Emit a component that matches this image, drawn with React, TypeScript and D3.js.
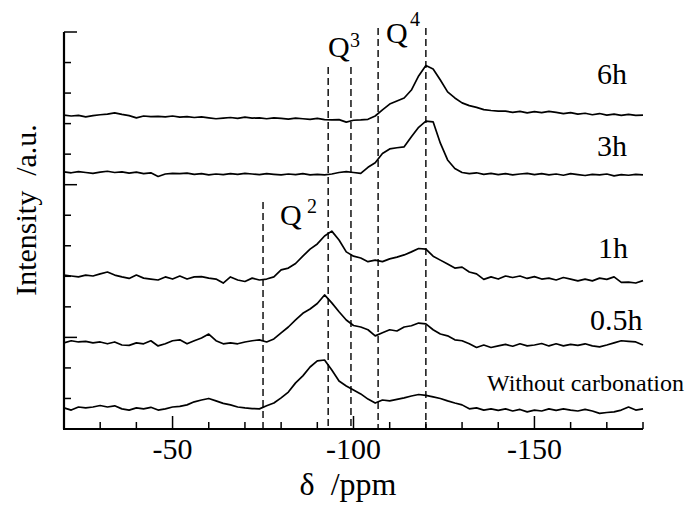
import React from "react";
import * as d3 from "d3";

// chemical shift grid (ppm), sampled every 2 ppm from -20 to -180
const ppmGrid: number[] = d3.range(81).map((i) => -20 - 2 * i);

const seriesNames = ["Without carbonation", "0.5h", "1h", "3h", "6h"];
// vertical offsets of each spectrum (a.u.)
const baselineOffsets = [-23.1, -1.8, 20.1, 53.8, 72.5];

// relative intensities (a.u.)
const relWithout = [
  0.0, -0.7, 0.3, 0.0, 0.3, 0.8, 0.3, 0.7, -0.3, -0.7,
  0.0, -0.3, 0.2, -0.7, -0.3, 0.3, 0.5, 1.0, 2.0, 2.6,
  3.1, 2.3, 1.5, 1.0, 0.3, 0.0, -0.2, -0.3, 0.7, 1.6,
  3.3, 5.2, 8.2, 10.5, 13.4, 15.4, 15.7, 12.4, 8.8, 7.2,
  5.9, 4.6, 2.9, 1.6, 2.6, 2.3, 2.8, 3.3, 3.9, 4.4,
  4.1, 3.6, 3.1, 2.3, 1.6, 1.0, -0.3, 0.0, -0.7, -0.3,
  -0.8, -0.3, -1.0, -0.5, -1.3, -0.7, -1.0, -0.3, -0.8, -0.3,
  -0.7, -1.0, -0.5, -1.0, -1.8, -1.5, -1.3, -0.7, 0.3, -0.7, -0.3,
];
const rel05h = [
  0.0, 0.7, 0.3, 0.5, 0.0, 0.3, -0.3, 0.3, -0.7, -0.8,
  0.0, -0.3, 0.7, -1.0, -0.3, 0.7, 1.0, -0.3, 0.7, 1.6,
  2.9, 0.7, -0.3, 0.0, -0.3, 0.3, 0.7, 1.0, 0.3, 1.3,
  3.3, 5.2, 7.5, 9.7, 11.1, 12.9, 15.7, 13.1, 10.2, 7.5,
  5.7, 5.2, 4.3, 2.3, 3.3, 4.3, 3.9, 5.2, 5.6, 6.5,
  6.2, 4.3, 2.9, 2.3, 1.0, 0.7, -0.3, -1.5, -0.7, -1.5,
  -1.0, -0.5, -1.1, -0.3, -1.0, -0.7, -0.2, -1.0, -0.3, -1.0,
  -0.5, -0.8, -0.3, -1.0, -1.3, -0.7, 0.0, 0.7, 0.5, 0.3, -0.7,
];
const rel1h = [
  0.3, 0.0, -0.3, 0.3, 0.0, 0.7, 1.3, 0.3, -0.3, -0.8,
  0.3, -0.7, -1.0, -1.3, -0.3, -1.0, 0.0, -1.0, -0.3, -0.2,
  -0.7, -1.0, -2.3, -0.3, -1.3, -1.8, -0.7, -1.3, -1.0, -0.3,
  2.0, 2.6, 4.1, 6.5, 8.8, 10.5, 13.1, 14.7, 11.8, 7.9,
  6.5, 5.9, 4.7, 5.2, 4.7, 5.6, 6.2, 6.9, 7.9, 9.0,
  8.8, 6.5, 5.2, 3.9, 2.6, 2.9, 1.3, 0.7, -1.1, -0.3,
  -1.0, 0.0, -0.5, 0.0, -0.8, -0.2, -1.0, -0.7, -1.3, -0.5,
  -1.0, -1.6, -1.0, -1.6, -0.7, -1.1, -0.3, -2.1, -2.0, -2.3, -1.5,
];
const rel3h = [
  0.4, 0.1, 0.5, 0.2, -0.1, 0.3, 0.6, 0.2, 0.4, 0.0,
  0.3, -0.2, 0.1, -1.1, -0.3, -0.1, -0.2, 0.0, -0.4, -0.2,
  -0.6, -0.3, -0.5, -0.2, -0.4, -0.1, -0.3, -0.5, -0.2, -0.4,
  -0.6, -0.3, -0.5, -0.2, -0.6, -0.4, -0.6, -0.3, 0.2, 0.5,
  0.2, -0.1, 1.9, 3.4, 6.4, 7.9, 8.3, 8.6, 11.9, 15.0,
  17.0, 16.8, 9.8, 4.3, 1.5, 0.2, -0.2, 0.1, -0.4, -0.1,
  -0.5, -0.2, -0.6, -0.3, -0.1, -0.5, -0.2, -0.6, -0.3, -0.7,
  -0.2, -0.5, -0.8, -0.4, -0.6, -0.3, -0.9, -0.5, -0.7, -0.4, -0.6,
];
const rel6h = [
  0.3, 0.0, 0.2, -0.3, 0.1, 0.4, 0.6, 1.0, 0.5, 0.1,
  -0.6, 0.0, -0.2, -0.1, -0.3, 0.0, -0.4, -0.2, -0.5, -0.3,
  -0.6, -0.9, -0.7, -0.5, -0.8, -0.4, -0.7, -0.6, -0.9, -0.6,
  -0.8, -1.0, -0.7, -0.9, -1.1, -0.8, -1.2, -1.3, -1.2, -2.0,
  -1.4, -1.3, -1.1, 0.0, 2.0, 3.9, 4.9, 5.9, 8.5, 13.1,
  16.5, 15.4, 11.8, 7.9, 5.9, 4.3, 3.4, 2.8, 2.1, 1.8,
  1.6, 1.6, 1.2, 1.5, 1.0, 1.4, 1.1, 1.5, 1.2, 0.8,
  1.1, 0.6, 0.9, 0.4, 0.8, 0.3, 0.6, 0.2, 0.5, 0.2, 0.3,
];
const relSeries = [relWithout, rel05h, rel1h, rel3h, rel6h];

const xMajorTicks = [-50, -100, -150];
const xTicks = d3.range(-20, -181, -10);
const yTicks = d3.range(-30, 101, 10);
const yMajorTicks = [0, 50, 100];

// dashed reference lines: position (ppm) and top (a.u.)
const refLinePpm = [-75, -93, -99.3, -106.8, -120];
const refLineTop = [44.3, 88.5, 88.5, 101.3, 101.3];

const qLabels = ["2", "3", "4"];

const FONT = "'Liberation Serif', 'DejaVu Serif', 'Noto Serif', 'Times New Roman', Times, serif";

export default function App() {
  const width = 688;
  const height = 506;
  const x = d3.scaleLinear().domain([-20, -180]).range([64, 643]);
  const y = d3.scaleLinear().domain([-30, 100]).range([429, 32]);

  const line = d3
    .line<[number, number]>()
    .x((d) => x(d[0]))
    .y((d) => y(d[1]))
    .curve(d3.curveLinear);

  const paths = relSeries.map((rel, si) =>
    line(ppmGrid.map((p, i) => [p, baselineOffsets[si] + rel[i]] as [number, number]))
  );

  const labelPos = [
    { x: 487, y: 391, size: 24 },
    { x: 590, y: 330, size: 30 },
    { x: 598, y: 258, size: 30 },
    { x: 597, y: 156, size: 30 },
    { x: 597, y: 84, size: 30 },
  ];
  const qPos = [
    { x: 280, y: 225, sx: 307, sy: 213 },
    { x: 328, y: 57, sx: 350, sy: 47 },
    { x: 386, y: 43, sx: 410, sy: 26 },
  ];

  const x0 = x(-20);
  const yb = y(-30);
  const ts: React.CSSProperties = { fontFamily: FONT };

  return (
    <svg
      width={width}
      height={height}
      style={{ position: "absolute", left: 0, top: 0, background: "#fff", fontFamily: FONT }}
    >
      <rect width={width} height={height} fill="#fff" />
      {refLinePpm.map((p, i) => (
        <line
          key={"r" + i}
          x1={x(p)}
          x2={x(p)}
          y1={y(refLineTop[i])}
          y2={yb}
          stroke="#000"
          strokeWidth={1.4}
          strokeDasharray="7,4"
        />
      ))}
      {paths.map((d, i) => (
        <path key={"s" + i} d={d || ""} fill="none" stroke="#000" strokeWidth={1.7} strokeLinejoin="round" />
      ))}
      <line x1={x0} x2={x0} y1={y(100)} y2={yb} stroke="#000" strokeWidth={2.2} />
      <line x1={x0 - 1} x2={x(-180)} y1={yb} y2={yb} stroke="#000" strokeWidth={2.2} />
      {xTicks.map((t) => {
        const major = xMajorTicks.includes(t);
        return (
          <line key={"xt" + t} x1={x(t)} x2={x(t)} y1={yb} y2={yb - (major ? 13 : 7)} stroke="#000" strokeWidth={1.5} />
        );
      })}
      {yTicks.map((t) => {
        const major = yMajorTicks.includes(t);
        return (
          <line key={"yt" + t} x1={x0} x2={x0 + (major ? 13 : 7)} y1={y(t)} y2={y(t)} stroke="#000" strokeWidth={1.5} />
        );
      })}
      {xMajorTicks.map((t) => (
        <text key={"xl" + t} x={x(t)} y={459} textAnchor="middle" fontSize={30} style={ts}>
          {String(t)}
        </text>
      ))}
      <text x={348} y={495} textAnchor="middle" fontSize={32} style={{ ...ts, whiteSpace: "pre" }}>
        {"δ  /ppm"}
      </text>
      <text
        transform="translate(36,210) rotate(-90)"
        textAnchor="middle"
        fontSize={30}
        style={{ ...ts, whiteSpace: "pre" }}
      >
        {"Intensity  /a.u."}
      </text>
      {seriesNames.map((n, i) => (
        <text key={"n" + i} x={labelPos[i].x} y={labelPos[i].y} fontSize={labelPos[i].size} style={ts}>
          {n}
        </text>
      ))}
      {qLabels.map((q, i) => (
        <g key={"q" + i}>
          <text x={qPos[i].x} y={qPos[i].y} fontSize={30} style={ts}>
            Q
          </text>
          <text x={qPos[i].sx} y={qPos[i].sy} fontSize={20} style={ts}>
            {q}
          </text>
        </g>
      ))}
    </svg>
  );
}
